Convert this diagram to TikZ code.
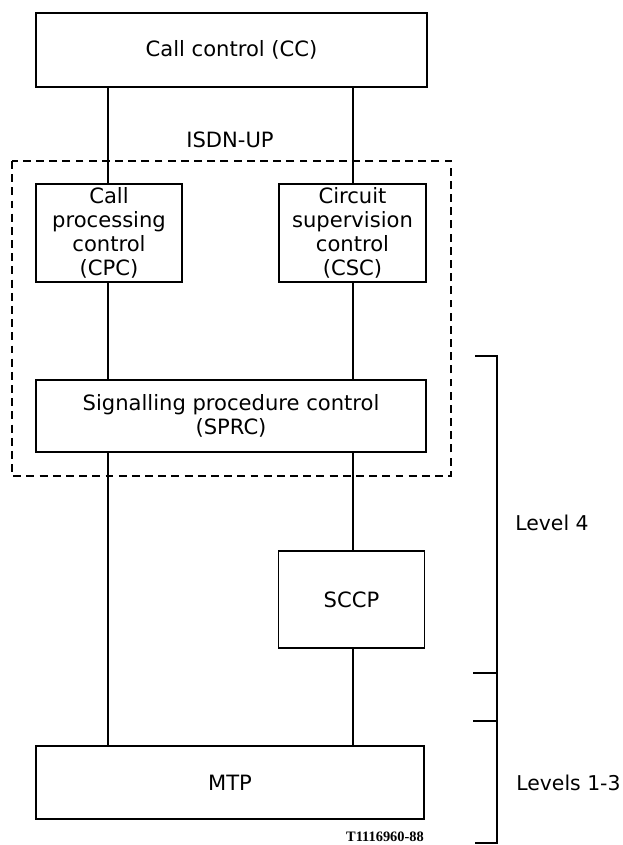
\documentclass[tikz,border=0pt]{standalone}
\usepackage{fontspec}
\setmainfont{DejaVu Sans}
\newfontfamily\tagfont{Liberation Serif}
\usepackage{tikz}

\tikzset{
  box/.style={draw, rectangle, line width=0.7pt, align=center, inner sep=1pt,
    font=\fontsize{12}{13.8}\selectfont},
  link/.style={line width=0.7pt},
  isdn/.style={draw, dashed, line width=0.7pt, dash pattern=on 4.5pt off 3pt},
  level/.style={anchor=west, inner sep=0pt, font=\fontsize{11.6}{14}\selectfont}
}

\begin{document}
\begin{tikzpicture}
\useasboundingbox (0,0) rectangle (12.44,-16.9);

\node[box, minimum width=7.82cm, minimum height=1.48cm](CC) at (4.63,-1.0) {Call control (CC)};
\node[box, minimum width=2.92cm, minimum height=1.96cm](CPC) at (2.18,-4.66) {Call\\processing\\control\\(CPC)};
\node[box, minimum width=2.94cm, minimum height=1.96cm](CSC) at (7.05,-4.66) {Circuit\\supervision\\control\\(CSC)};
\node[box, minimum width=7.8cm, minimum height=1.44cm](SPRC) at (4.62,-8.32) {Signalling procedure control\\(SPRC)};
\node[box, minimum width=2.92cm, minimum height=1.94cm](SCCP) at (7.03,-11.99) {SCCP};
\node[box, minimum width=7.76cm, minimum height=1.46cm](MTP) at (4.6,-15.65) {MTP};

% ISDN user part
\draw[isdn] (0.24,-3.22) rectangle (9.02,-9.52);
\node[font=\fontsize{12}{14}\selectfont](ISDN) at (4.6,-2.8) {ISDN-UP};

\draw[link](CPC.north -| 2.16,0) to (CC.south -| 2.16,0);
\draw[link](CSC.north -| 7.06,0) to (CC.south -| 7.06,0);
\draw[link](CPC.south -| 2.16,0) to (SPRC.north -| 2.16,0);
\draw[link](CSC.south -| 7.06,0) to (SPRC.north -| 7.06,0);
\draw[link](SPRC.south -| 2.16,0) to (MTP.north -| 2.16,0);
\draw[link](SPRC.south -| 7.06,0) to (SCCP.north -| 7.06,0);
\draw[link](SCCP.south -| 7.06,0) to (MTP.north -| 7.06,0);

% levels
\coordinate (B1) at (9.5,-7.12);
\coordinate (B2) at (9.94,-7.12);
\coordinate (B3) at (9.94,-16.86);
\coordinate (B4) at (9.5,-16.86);
\draw[link](B1) -- (B2) -- (B3) -- (B4);
\draw[link](9.46,-13.46) -- (9.94,-13.46);
\draw[link](9.46,-14.42) -- (9.94,-14.42);
\node[level](L4) at (10.3,-10.46) {Level 4};
\node[level](L13) at (10.32,-15.66) {Levels 1-3};

\node[font=\tagfont\bfseries\fontsize{8.2}{9}\selectfont](TAG) at (7.7,-16.74) {T1116960-88};
\end{tikzpicture}
\end{document}
